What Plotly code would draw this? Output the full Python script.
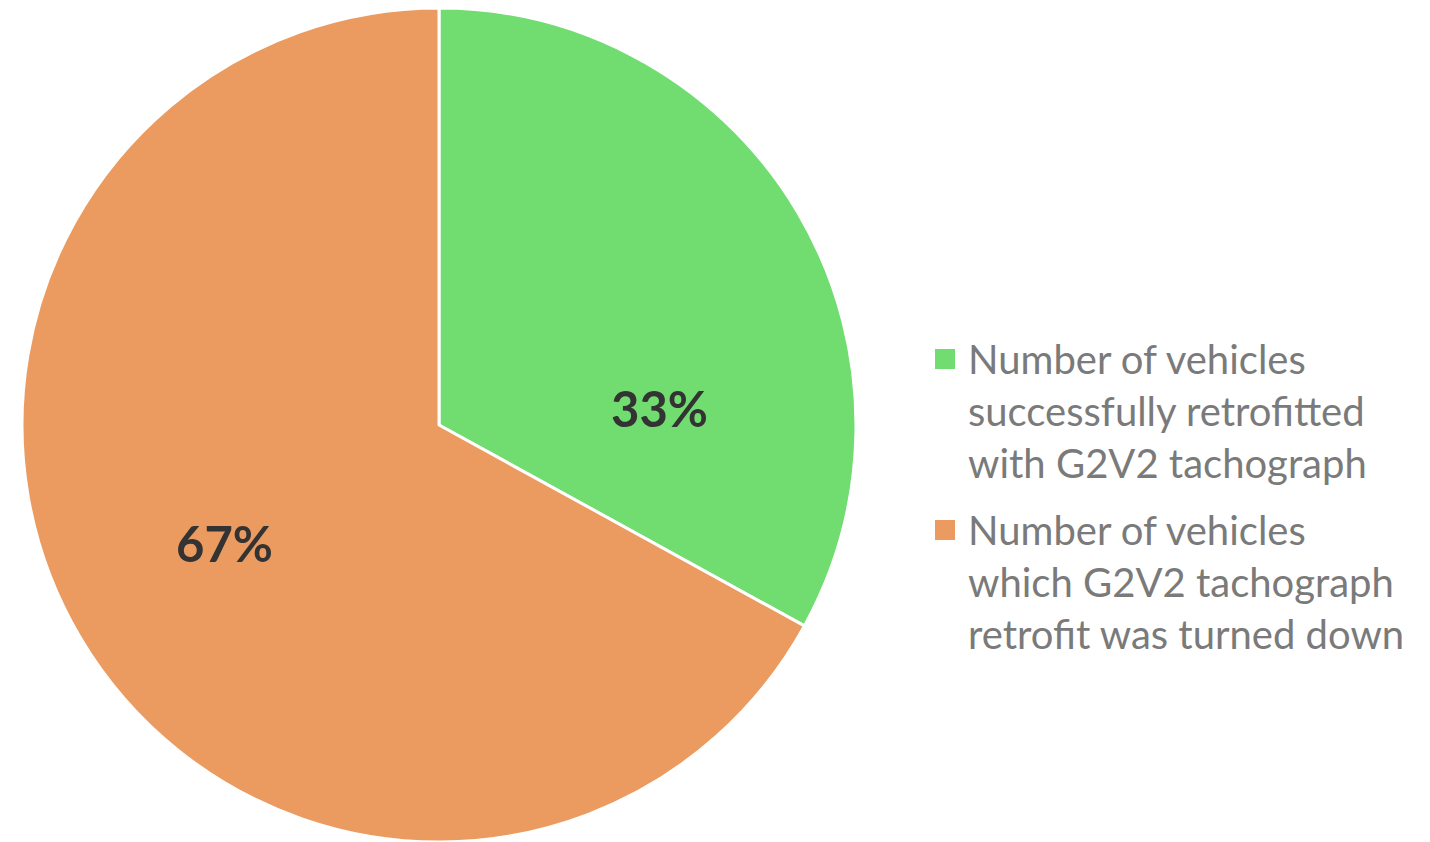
import plotly.graph_objects as go
import math

labels = [
    "Number of vehicles<br>successfully retrofitted<br>with G2V2 tachograph",
    "Number of vehicles<br>which G2V2 tachograph<br>retrofit was turned down",
]
values = [33, 67]
colors = ["#71DC6F", "#EB9B5F"]

W, H = 1430, 842
cx, cy, R = 439, 425, 417

fig = go.Figure(
    go.Pie(
        labels=labels,
        values=values,
        sort=False,
        direction="clockwise",
        rotation=0,
        marker=dict(colors=colors, line=dict(color="white", width=3)),
        textinfo="none",
        hoverinfo="label+percent",
        showlegend=False,
        domain=dict(x=[(cx - R) / W, (cx + R) / W], y=[(H - cy - R) / H, (H - cy + R) / H]),
    )
)

# percentage labels placed inside each slice
total = sum(values)
label_angles = [85.6, 241.2]  # degrees clockwise from 12 o'clock
label_radii = [0.53, 0.587]
for v, a, rr in zip(values, label_angles, label_radii):
    t = math.radians(a)
    px = cx + rr * R * math.sin(t)
    py = cy - rr * R * math.cos(t)
    fig.add_annotation(
        x=px / W, y=1 - py / H, xref="paper", yref="paper",
        text=f"{round(100 * v / total)}%", showarrow=False,
        font=dict(family="Lato", size=49, color="#333333", weight="bold"),
        xanchor="center", yanchor="middle",
    )

# legend: coloured square + wrapped label for each slice
legend_rows = [359, 530]       # centre of each square (px from top)
text_centres = [411, 582]      # vertical centre of each label block
for lbl, col, ys, yt in zip(labels, colors, legend_rows, text_centres):
    fig.add_shape(
        type="rect", xref="paper", yref="paper",
        x0=935 / W, x1=955 / W, y0=1 - (ys + 10) / H, y1=1 - (ys - 10) / H,
        fillcolor=col, line=dict(width=0),
    )
    fig.add_annotation(
        x=966 / W, y=1 - yt / H, xref="paper", yref="paper",
        text=lbl, showarrow=False, align="left",
        font=dict(family="Lato", size=40, color="#7A7A7A"),
        xanchor="left", yanchor="middle",
    )

fig.update_layout(
    width=W, height=H,
    margin=dict(l=0, r=0, t=0, b=0),
    paper_bgcolor="white",
    plot_bgcolor="white",
    showlegend=False,
)

fig.write_html("out.html")
